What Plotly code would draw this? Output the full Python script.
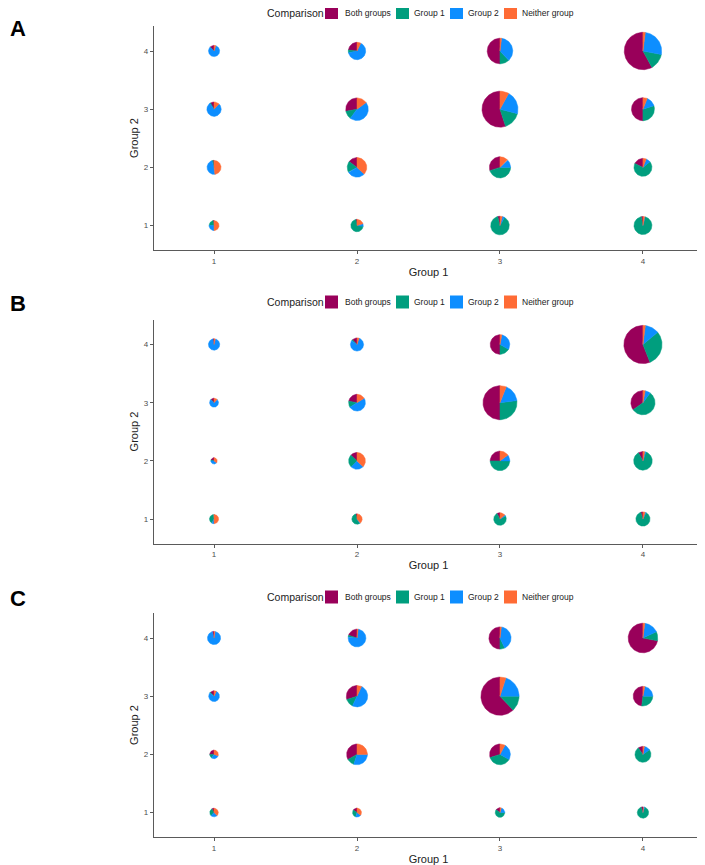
import numpy as np
import plotly.graph_objects as go

# categories & colours of the pie slices
categories = ["Both groups", "Group 1", "Group 2", "Neither group"]
colors = ["#99005A", "#009E7E", "#0D8EFF", "#FF6B35"]

group1_vals = [1, 2, 3, 4]
group2_vals = [4, 3, 2, 1]   # rows listed top to bottom

# pies are listed row by row (Group 2 = 4,3,2,1), columns Group 1 = 1..4
# relative pie size (scatterpie "r")
a_r = [0.28, 0.435, 0.64, 0.935,
       0.36, 0.565, 0.90, 0.575,
       0.35, 0.49, 0.53, 0.45,
       0.25, 0.31, 0.465, 0.45]
a_both = [0.12, 0.23, 0.50, 0.58, 0.08, 0.28, 0.55, 0.50, 0.02, 0.15, 0.30, 0.18, 0.03, 0.03, 0.04, 0.03]
a_g1 = [0.01, 0.05, 0.12, 0.14, 0.02, 0.12, 0.16, 0.30, 0.03, 0.18, 0.45, 0.68, 0.22, 0.70, 0.88, 0.93]
a_g2 = [0.82, 0.65, 0.36, 0.26, 0.78, 0.45, 0.21, 0.14, 0.47, 0.30, 0.12, 0.08, 0.25, 0.07, 0.04, 0.01]
a_neither = [0.05, 0.07, 0.02, 0.02, 0.12, 0.15, 0.08, 0.06, 0.48, 0.37, 0.13, 0.06, 0.50, 0.20, 0.04, 0.03]

b_r = [0.285, 0.33, 0.49, 0.955,
       0.225, 0.42, 0.85, 0.605,
       0.16, 0.42, 0.49, 0.465,
       0.23, 0.26, 0.315, 0.355]
b_both = [0.03, 0.12, 0.50, 0.56, 0.12, 0.22, 0.50, 0.35, 0.20, 0.13, 0.25, 0.08, 0.02, 0.04, 0.08, 0.05]
b_g1 = [0.00, 0.03, 0.17, 0.30, 0.02, 0.12, 0.27, 0.55, 0.05, 0.25, 0.50, 0.87, 0.40, 0.55, 0.75, 0.88]
b_g2 = [0.93, 0.80, 0.30, 0.12, 0.74, 0.50, 0.17, 0.07, 0.40, 0.25, 0.10, 0.02, 0.08, 0.02, 0.03, 0.02]
b_neither = [0.04, 0.05, 0.03, 0.02, 0.12, 0.16, 0.06, 0.03, 0.35, 0.37, 0.15, 0.03, 0.50, 0.39, 0.14, 0.05]

c_r = [0.33, 0.445, 0.555, 0.74,
       0.27, 0.535, 0.955, 0.49,
       0.215, 0.52, 0.52, 0.40,
       0.215, 0.225, 0.24, 0.285]
c_both = [0.04, 0.20, 0.50, 0.72, 0.12, 0.30, 0.62, 0.48, 0.25, 0.33, 0.30, 0.10, 0.08, 0.15, 0.15, 0.05]
c_g1 = [0.00, 0.03, 0.07, 0.10, 0.03, 0.13, 0.13, 0.27, 0.15, 0.12, 0.37, 0.75, 0.30, 0.30, 0.60, 0.90]
c_g2 = [0.93, 0.75, 0.41, 0.16, 0.78, 0.50, 0.20, 0.22, 0.30, 0.30, 0.25, 0.12, 0.25, 0.20, 0.20, 0.03]
c_neither = [0.03, 0.02, 0.02, 0.02, 0.07, 0.07, 0.05, 0.03, 0.30, 0.25, 0.08, 0.03, 0.37, 0.35, 0.05, 0.02]

panels = [
    ("A", a_r, [a_both, a_g1, a_g2, a_neither]),
    ("B", b_r, [b_both, b_g1, b_g2, b_neither]),
    ("C", c_r, [c_both, c_g1, c_g2, c_neither]),
]

# page geometry (pixels, figure coordinates; the page body adds an 8px margin)
W, H = 697, 857
X0, X1 = 146, 695
panel_tops = [18, 311.5, 605]
PANEL_H = 224
legend_y = [4.5, 294, 589]
letter_y = [20, 295, 590]
XR = [0.58, 4.42]
YR = [0.58, 4.43]
R_MAX = 20  # px for r = 1

# legend placement (px)
LEG_TITLE_X = 257
SWATCH_X = [317, 388, 442, 496]
TEXT_X = [335, 404, 458, 512]
SWATCH = 13

px_x = (X1 - X0) / (XR[1] - XR[0])
px_y = PANEL_H / (YR[1] - YR[0])

FONT = "Liberation Sans, Arial, sans-serif"

fig = go.Figure()
layout = dict()
annotations = []
shapes = []

for p, (letter, radii, shares) in enumerate(panels):
    sfx = "" if p == 0 else str(p + 1)
    xa, ya = "x" + sfx, "y" + sfx

    pie_x, pie_y = [], []
    for g2 in group2_vals:
        for g1 in group1_vals:
            pie_x.append(g1)
            pie_y.append(g2)

    polys = [([], []) for _ in categories]
    for i in range(len(pie_x)):
        f = np.array([s[i] for s in shares], dtype=float)
        f = f / f.sum()
        rpx = radii[i] * R_MAX
        start = np.pi / 2
        for k in range(len(categories)):
            if f[k] <= 0:
                continue
            end = start + 2 * np.pi * f[k]
            n = max(int(f[k] * 180), 3)
            t = np.linspace(start, end, n)
            xs = [pie_x[i]] + list(pie_x[i] + rpx / px_x * np.cos(t)) + [pie_x[i], None]
            ys = [pie_y[i]] + list(pie_y[i] + rpx / px_y * np.sin(t)) + [pie_y[i], None]
            polys[k][0].extend(xs)
            polys[k][1].extend(ys)
            start = end

    for k, name in enumerate(categories):
        fig.add_trace(go.Scatter(
            x=polys[k][0], y=polys[k][1], mode="lines", fill="toself", name=name,
            fillcolor=colors[k], line=dict(color=colors[k], width=0.5),
            hoverinfo="skip", showlegend=False, xaxis=xa, yaxis=ya,
        ))

    top = panel_tops[p]
    dom_y = [1 - (top + PANEL_H) / H, 1 - top / H]
    axis_common = dict(
        showgrid=False, zeroline=False, showline=True, linecolor="#5a5a5a",
        linewidth=1.3, ticks="outside", ticklen=3, tickwidth=1, tickcolor="#5a5a5a",
        tickfont=dict(size=8, color="#4d4d4d", family=FONT),
        tickvals=[1, 2, 3, 4], fixedrange=True,
    )
    layout["xaxis" + sfx] = dict(
        axis_common, domain=[X0 / W, X1 / W], range=XR, anchor=ya,
        title=dict(text="Group 1", font=dict(size=11, color="#222", family=FONT), standoff=3),
    )
    layout["yaxis" + sfx] = dict(
        axis_common, domain=dom_y, range=YR, anchor=xa,
        title=dict(text="Group 2", font=dict(size=11, color="#222", family=FONT), standoff=2),
    )

    # legend: "Comparison" + four colour keys
    ly = 1 - legend_y[p] / H
    annotations.append(dict(
        text="Comparison", x=LEG_TITLE_X / W, y=ly, xref="paper", yref="paper",
        xanchor="left", yanchor="middle", showarrow=False,
        font=dict(size=10.5, color="#222", family=FONT),
    ))
    for k, name in enumerate(categories):
        shapes.append(dict(
            type="rect", xref="paper", yref="paper",
            x0=SWATCH_X[k] / W, x1=(SWATCH_X[k] + SWATCH) / W,
            y0=1 - (legend_y[p] + SWATCH / 2) / H, y1=1 - (legend_y[p] - SWATCH / 2) / H,
            fillcolor=colors[k], line=dict(width=0),
        ))
        annotations.append(dict(
            text=name, x=TEXT_X[k] / W, y=ly, xref="paper", yref="paper",
            xanchor="left", yanchor="middle", showarrow=False,
            font=dict(size=8.5, color="#222", family=FONT),
        ))

    annotations.append(dict(
        text="<b>%s</b>" % letter, x=0, y=1 - letter_y[p] / H,
        xref="paper", yref="paper", xanchor="left", yanchor="middle",
        showarrow=False, font=dict(size=22, color="black", family=FONT),
    ))

fig.update_layout(
    width=W, height=H, margin=dict(l=0, r=0, t=0, b=0),
    paper_bgcolor="white", plot_bgcolor="white", showlegend=False,
    annotations=annotations, shapes=shapes, **layout,
)

fig.write_html("out.html")
